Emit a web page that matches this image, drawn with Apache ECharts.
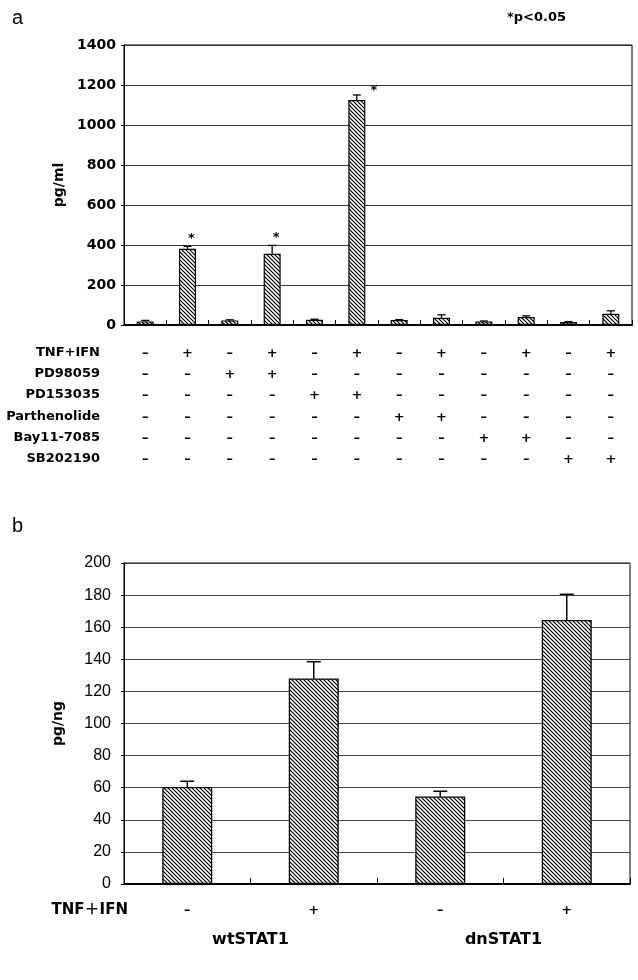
<!DOCTYPE html>
<html><head><meta charset="utf-8">
<script src="https://cdn.jsdelivr.net/npm/echarts@6/dist/echarts.min.js"></script>
<style>html,body{margin:0;padding:0;background:#fff}#c{width:638px;height:980px}</style>
</head><body><div id="c"></div>
<script>
// ---------- DATA ----------
const catsA = ['1','2','3','4','5','6','7','8','9','10','11','12'];
const valuesA = [18, 381, 23, 356, 26, 1125, 25, 36, 18, 40, 15, 56];
const errorsA = [5, 12, 3, 42, 3, 25, 2, 15, 2, 6, 2, 15];
const significantA = [0,1,0,1,0,1,0,0,0,0,0,0];
const rowNames = ['TNF+IFN','PD98059','PD153035','Parthenolide','Bay11-7085','SB202190'];
const rowTNF   = ['–','+','–','+','–','+','–','+','–','+','–','+'];
const rowPD98  = ['–','–','+','+','–','–','–','–','–','–','–','–'];
const rowPD153 = ['–','–','–','–','+','+','–','–','–','–','–','–'];
const rowParth = ['–','–','–','–','–','–','+','+','–','–','–','–'];
const rowBay   = ['–','–','–','–','–','–','–','–','+','+','–','–'];
const rowSB    = ['–','–','–','–','–','–','–','–','–','–','+','+'];
const yTicksA = {min:0, max:1400, interval:200};

const catsB = ['wt-','wt+','dn-','dn+'];
const tnfB = ['–','+','–','+'];
const groupsB = ['wtSTAT1','dnSTAT1'];
const valuesB = [60.5, 128, 54.5, 164.5];
const errorsB = [3.5, 10.5, 3.3, 16];
const yTicksB = {min:0, max:200, interval:20};

// ---------- STYLE HELPERS ----------
function hatch(s, lw){
  const c = document.createElement('canvas'); c.width = s; c.height = s;
  const g = c.getContext('2d');
  g.fillStyle = '#fff'; g.fillRect(0,0,s,s);
  g.strokeStyle = '#000'; g.lineWidth = lw;
  g.beginPath();
  g.moveTo(-1,-1); g.lineTo(s+1,s+1);
  g.moveTo(-1,s-1); g.lineTo(1,s+1);
  g.moveTo(s-1,-1); g.lineTo(s+1,1);
  g.stroke();
  return c;
}
const DJ = '"DejaVu Sans", sans-serif';
const LS = '"Liberation Sans", Arial, sans-serif';
const rows = [rowTNF,rowPD98,rowPD153,rowParth,rowBay,rowSB];

function errRender(cap, lw){
  return function(params, api){
    const i = api.value(0), v = api.value(1), e = api.value(2);
    const b = api.coord([i, v]), t = api.coord([i, v+e]);
    return {type:'group', children:[
      {type:'line', shape:{x1:b[0],y1:b[1],x2:t[0],y2:t[1]}, style:{stroke:'#000',lineWidth:lw}},
      {type:'line', shape:{x1:t[0]-cap/2,y1:t[1],x2:t[0]+cap/2,y2:t[1]}, style:{stroke:'#000',lineWidth:lw}}
    ]};
  };
}
const starShift = {5:[17, 4]};
function starRender(params, api){
  const i = api.value(0), v = api.value(1), e = api.value(2), s = api.value(3);
  if (!s) return null;
  const t = api.coord([i, v+e]);
  const sh = starShift[params.dataIndex] || [4, 8];
  return {type:'text', style:{text:'*', x:t[0]+sh[0], y:t[1]-sh[1], textAlign:'center', textVerticalAlign:'middle',
    font:'bold 13px '+DJ, fill:'#000'}};
}

const chart = echarts.init(document.getElementById('c'), null, {renderer:'canvas'});
chart.setOption({
  animation:false,
  backgroundColor:'#fff',
  grid:[
    {left:124, top:45, width:508, height:280, show:true, borderColor:'#000', borderWidth:1, backgroundColor:'transparent'},
    {left:124, top:563, width:506, height:321, show:true, borderColor:'#000', borderWidth:1, backgroundColor:'transparent'}
  ],
  xAxis:[
    {type:'category', gridIndex:0, data:catsA,
     axisLine:{lineStyle:{color:'#000', width:2}},
     axisTick:{show:true, inside:true, length:5, lineStyle:{color:'#000'}},
     axisLabel:{color:'#000', fontFamily:DJ, margin:18, fontSize:13, fontWeight:'bold', lineHeight:21.2,
       formatter:(v, idx)=> rows.map(r=>r[idx]).join('\n')}},
    {type:'category', gridIndex:1, data:catsB,
     axisLine:{lineStyle:{color:'#000', width:2}},
     axisTick:{show:true, inside:true, length:6, lineStyle:{color:'#000'}},
     axisLabel:{color:'#000', fontFamily:DJ, margin:20, fontSize:13, fontWeight:'bold',
       formatter:(v, idx)=> tnfB[idx]}},
    {type:'category', gridIndex:1, data:groupsB, position:'bottom', offset:40,
     axisLine:{show:false}, axisTick:{show:false},
     axisLabel:{color:'#000', fontFamily:DJ, fontSize:16, fontWeight:'bold', margin:8}}
  ],
  yAxis:[
    {type:'value', gridIndex:0, ...yTicksA, name:'pg/ml', nameLocation:'middle', nameGap:55,
     nameTextStyle:{color:'#000', fontFamily:DJ, fontSize:14, fontWeight:'bold'},
     axisLine:{show:true, lineStyle:{color:'#000', width:1}},
     axisTick:{show:true, length:3, lineStyle:{color:'#000'}},
     axisLabel:{color:'#000', fontFamily:DJ, fontSize:14, fontWeight:'bold', margin:8, formatter:v=>String(v)},
     splitLine:{lineStyle:{color:'#333', width:1}}},
    {type:'value', gridIndex:1, ...yTicksB, name:'pg/ng', nameLocation:'middle', nameGap:59,
     nameTextStyle:{color:'#000', fontFamily:DJ, fontSize:14, fontWeight:'bold'},
     axisLine:{show:true, lineStyle:{color:'#000', width:1}},
     axisTick:{show:true, length:3, lineStyle:{color:'#000'}},
     axisLabel:{color:'#000', fontFamily:LS, fontSize:16, margin:13, formatter:v=>String(v)},
     splitLine:{lineStyle:{color:'#444', width:1}}}
  ],
  series:[
    {type:'bar', xAxisIndex:0, yAxisIndex:0, data:valuesA, barWidth:17,
     itemStyle:{color:{image:hatch(4,1.2), repeat:'repeat'}, borderColor:'#000', borderWidth:1.2}},
    {type:'custom', xAxisIndex:0, yAxisIndex:0, renderItem:errRender(8,1.3),
     data:valuesA.map((v,i)=>[i, v, errorsA[i]]), z:5},
    {type:'custom', xAxisIndex:0, yAxisIndex:0, renderItem:starRender,
     data:valuesA.map((v,i)=>[i, v, errorsA[i], significantA[i]]), z:6},
    {type:'bar', xAxisIndex:1, yAxisIndex:1, data:valuesB, barWidth:50,
     itemStyle:{color:{image:hatch(4,1.2), repeat:'repeat'}, borderColor:'#000', borderWidth:1.3}},
    {type:'custom', xAxisIndex:1, yAxisIndex:1, renderItem:errRender(14,1.5),
     data:valuesB.map((v,i)=>[i, v, errorsB[i]]), z:5}
  ],
  graphic:[
    {type:'text', left:12, top:8, style:{text:'a', font:'20px '+LS, fill:'#000'}},
    {type:'text', left:12, top:516, style:{text:'b', font:'20px '+LS, fill:'#000'}},
    {type:'text', left:507, top:11, style:{text:'*p<0.05', font:'bold 13px '+DJ, fill:'#000'}},
    {type:'text', right:538, top:342, style:{text:rowNames.join('\n'), font:'bold 13px '+DJ, fill:'#000',
      textAlign:'right', lineHeight:21.2}},
    {type:'text', right:510, top:903, style:{text:'TNF＋IFN', font:'bold 15px "DejaVu Sans", "Noto Sans CJK JP", sans-serif', fill:'#000'}}
  ]
});
</script></body></html>
